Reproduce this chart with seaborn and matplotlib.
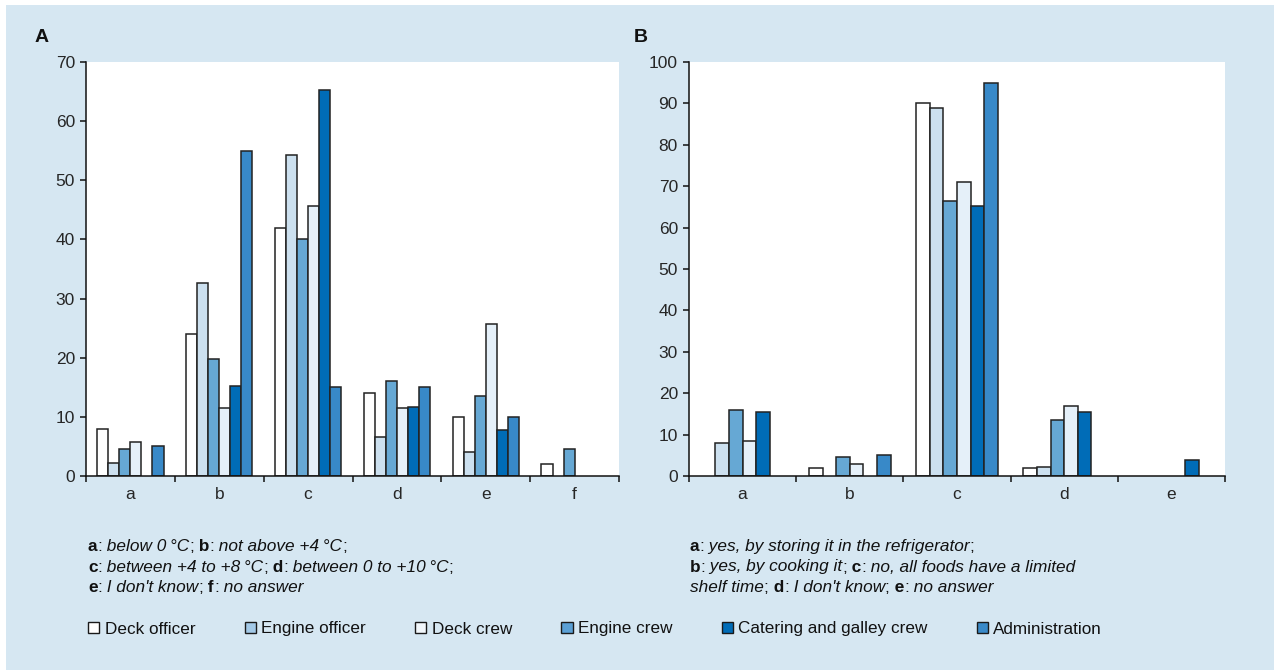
import numpy as np
import pandas as pd
import matplotlib
matplotlib.use("Agg")
import matplotlib.pyplot as plt
import matplotlib.patches as mpatches
import seaborn as sns

# series (bar order inside each group)
series = ["Deck officer", "Engine officer", "Deck crew", "Engine crew",
          "Catering and galley crew", "Administration"]
bar_colors = ["#ffffff", "#cce0ef", "#66a8d4", "#e5f0f9", "#006cb7", "#3889c8"]
legend_colors = ["#ffffff", "#a3c9e7", "#f2f7fb", "#5ba0d5", "#006cb7", "#3a8ac9"]

# panel A: storage temperature answers
groups_a = ["a", "b", "c", "d", "e", "f"]
deck_officer_a = [8.0, 24.0, 42.0, 14.0, 10.0, 2.0]
engine_officer_a = [2.2, 32.6, 54.3, 6.6, 4.0, 0.0]
engine_crew_a = [4.6, 19.7, 40.0, 16.0, 13.6, 4.6]
deck_crew_a = [5.8, 11.5, 45.6, 11.5, 25.7, 0.0]
catering_a = [0.0, 15.3, 65.3, 11.6, 7.7, 0.0]
admin_a = [5.0, 55.0, 15.0, 15.0, 10.0, 0.0]

# panel B: prolonging shelf time answers
groups_b = ["a", "b", "c", "d", "e"]
deck_officer_b = [0.0, 2.0, 90.0, 2.0, 0.0]
engine_officer_b = [8.0, 0.0, 89.0, 2.2, 0.0]
engine_crew_b = [16.0, 4.5, 66.5, 13.6, 0.0]
deck_crew_b = [8.5, 2.8, 71.0, 17.0, 0.0]
catering_b = [15.5, 0.0, 65.3, 15.4, 3.8]
admin_b = [0.0, 5.0, 95.0, 0.0, 0.0]

captions_a = [
    [("a", "b"), (":", "n"), (" below 0\u2009°C", "i"), (";", "n"), (" b", "b"), (":", "n"),
     (" not above +4\u2009°C", "i"), (";", "n")],
    [("c", "b"), (":", "n"), (" between +4 to +8\u2009°C", "i"), (";", "n"), (" d", "b"), (":", "n"),
     (" between 0 to +10\u2009°C", "i"), (";", "n")],
    [("e", "b"), (":", "n"), (" I don't know", "i"), (";", "n"), (" f", "b"), (":", "n"),
     (" no answer", "i")],
]
captions_b = [
    [("a", "b"), (":", "n"), (" yes, by storing it in the refrigerator", "i"), (";", "n")],
    [("b", "b"), (":", "n"), (" yes, by cooking it", "i"), (";", "n"), (" c", "b"), (":", "n"),
     (" no, all foods have a limited", "i")],
    [("shelf time", "i"), (";", "n"), (" d", "b"), (":", "n"), (" I don't know", "i"), (";", "n"),
     (" e", "b"), (":", "n"), (" no answer", "i")],
]

sns.set_theme(style="ticks")
plt.rcParams["font.family"] = ["Liberation Sans", "DejaVu Sans"]
plt.rcParams["text.color"] = "#111111"

bg = "#d6e7f2"
fig = plt.figure(figsize=(12.74, 6.70), dpi=100, facecolor="white")
fig.add_artist(mpatches.Rectangle((6 / 1274, 0), 1, 665 / 670, transform=fig.transFigure,
                                  facecolor=bg, edgecolor="none", zorder=-10))

ax_a = fig.add_axes([86 / 1274, 194 / 670, 533 / 1274, 414 / 670])
ax_b = fig.add_axes([689 / 1274, 194 / 670, 536 / 1274, 414 / 670])


def long_frame(groups, cols):
    rows = []
    for name, vals in zip(series, cols):
        for g, v in zip(groups, vals):
            rows.append({"group": g, "series": name, "value": v})
    return pd.DataFrame(rows)


df_a = long_frame(groups_a, [deck_officer_a, engine_officer_a, engine_crew_a,
                             deck_crew_a, catering_a, admin_a])
df_b = long_frame(groups_b, [deck_officer_b, engine_officer_b, engine_crew_b,
                             deck_crew_b, catering_b, admin_b])
palette = dict(zip(series, bar_colors))

for ax, df, groups, ymax, width in [(ax_a, df_a, groups_a, 70, 0.745),
                                    (ax_b, df_b, groups_b, 100, 0.76)]:
    sns.barplot(data=df, x="group", y="value", hue="series", hue_order=series,
                order=groups, palette=palette, width=width, edgecolor="#222222",
                linewidth=1.1, saturation=1, legend=False, ax=ax)
    # no answers -> no bar (hide the flat outline on the axis)
    for p in ax.patches:
        if p.get_height() == 0:
            p.set_visible(False)
    ax.set_facecolor("white")
    ax.set_xlim(-0.5, len(groups) - 0.5)
    ax.set_ylim(0, ymax)
    ax.set_yticks(np.arange(0, ymax + 1, 10))
    ax.set_xticks(np.arange(-0.5, len(groups)), minor=True)
    ax.tick_params(axis="x", which="major", length=0, pad=8, labelsize=12.5)
    ax.tick_params(axis="x", which="minor", length=4, width=1.1, color="#111111")
    ax.tick_params(axis="y", length=4, width=1.1, color="#111111", pad=4, labelsize=12.5)
    ax.set_xlabel("")
    ax.set_ylabel("")
    for s in ["top", "right"]:
        ax.spines[s].set_visible(False)
    for s in ["left", "bottom"]:
        ax.spines[s].set_color("#111111")
        ax.spines[s].set_linewidth(1.1)

fig.text(35 / 1274, 1 - 42 / 670, "A", fontsize=14, fontweight="bold")
fig.text(634 / 1274, 1 - 42 / 670, "B", fontsize=14, fontweight="bold")


def rich_line(x, y, parts, size=12.4):
    styles = {"b": dict(fontweight="bold"), "i": dict(fontstyle="italic"), "n": {}}
    s, k = parts[0]
    t = fig.text(x, y, s, fontsize=size, va="baseline", **styles[k])
    for s, k in parts[1:]:
        t = ax_a.annotate(s, xy=(1, 0), xycoords=t, va="bottom", fontsize=size,
                          annotation_clip=False, **styles[k])


for i, line in enumerate(captions_a):
    rich_line(88 / 1274, 1 - (551 + i * 20.5) / 670, line)
for i, line in enumerate(captions_b):
    rich_line(690 / 1274, 1 - (551 + i * 20.5) / 670, line)

handles = [mpatches.Patch(facecolor=c, edgecolor="#1a1a1a", linewidth=1.0, label=n)
           for n, c in zip(series, legend_colors)]
fig.legend(handles=handles, loc="center left", bbox_to_anchor=(73 / 1274, 1 - 629 / 670),
           ncol=6, frameon=False, fontsize=12.3, handlelength=0.65, handleheight=0.65,
           handletextpad=0.3, columnspacing=2.9)

fig.savefig("out.png", dpi=100, facecolor=fig.get_facecolor())
